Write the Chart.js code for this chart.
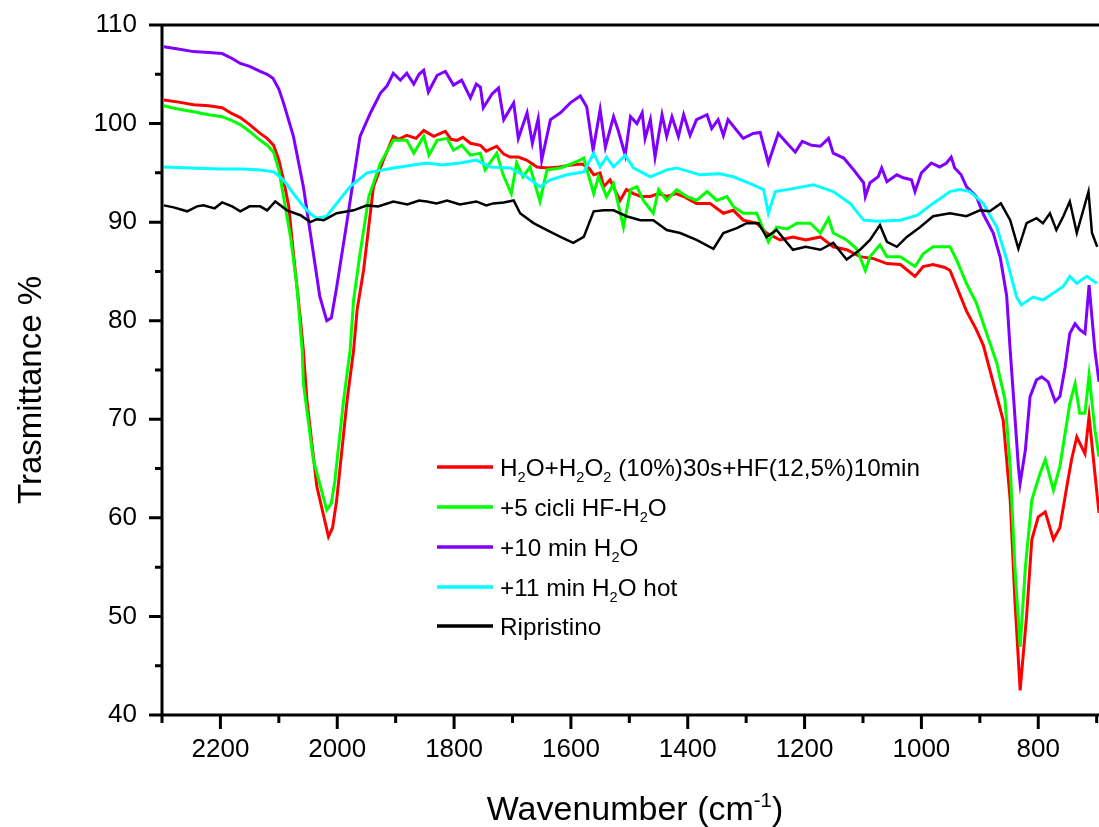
<!DOCTYPE html>
<html>
<head>
<meta charset="utf-8">
<title>Trasmittance FTIR</title>
<script src="https://cdn.jsdelivr.net/npm/chart.js@4.4.1/dist/chart.umd.min.js"></script>
<style>
  html, body { margin: 0; padding: 0; background: #fff; }
  canvas { display: block; }
</style>
</head>
<body>
<canvas id="ftirChart" width="1099" height="827"></canvas>
<script>
// spectra: [wavenumber cm-1, trasmittance %]
const hfEtch = [
  [2297,102.4],[2274,102.2],[2246,101.9],[2220,101.8],[2197,101.6],[2180,101.0],[2166,100.6],[2150,99.9],
  [2132,99.0],[2120,98.5],[2109,97.8],[2100,96.3],[2092,94.3],[2083,91.6],[2075,86.8],[2063,80.1],
  [2058,77.0],[2052,72.0],[2035,63.2],[2015,58.1],[2008,59.0],[2001,61.8],[1983,72.0],[1972,77.0],
  [1966,81.1],[1955,85.1],[1938,93.6],[1921,96.3],[1904,98.7],[1895,98.4],[1881,98.8],[1865,98.5],
  [1852,99.3],[1835,98.7],[1815,99.2],[1805,98.4],[1795,98.3],[1785,98.6],[1772,98.0],[1755,97.8],
  [1745,97.2],[1727,97.7],[1715,96.9],[1704,96.6],[1690,96.6],[1676,96.3],[1658,95.6],[1640,95.5],
  [1620,95.6],[1600,95.8],[1580,95.9],[1568,95.4],[1561,94.8],[1550,95.0],[1544,93.6],[1533,94.3],
  [1516,92.2],[1505,93.3],[1493,92.9],[1480,92.6],[1464,92.6],[1450,92.9],[1436,92.6],[1420,92.9],
  [1407,92.6],[1395,92.2],[1385,91.9],[1362,91.9],[1339,90.9],[1322,91.2],[1305,90.2],[1282,89.9],
  [1265,88.9],[1242,88.2],[1220,88.5],[1198,88.2],[1173,88.5],[1151,87.5],[1128,87.2],[1105,86.5],
  [1082,86.3],[1059,85.8],[1036,85.7],[1011,84.5],[997,85.5],[980,85.7],[960,85.4],[951,85.1],
  [940,83.5],[923,81.0],[906,79.1],[894,77.5],[877,73.7],[860,69.9],[848,61.8],[840,51.7],
  [831,42.5],[820,50.0],[811,57.8],[800,60.1],[788,60.6],[774,57.8],[763,59.0],[751,63.2],
  [743,65.9],[734,68.2],[720,66.5],[713,70.3],[703,64.5],[696,60.5]
];
const cicliHF = [
  [2297,101.8],[2275,101.5],[2246,101.2],[2220,100.9],[2197,100.7],[2180,100.3],[2166,99.9],[2150,99.2],
  [2132,98.3],[2120,97.8],[2109,97.1],[2100,95.3],[2092,92.6],[2080,88.5],[2069,83.5],[2060,77.0],
  [2058,73.7],[2041,65.9],[2018,60.8],[2010,61.5],[2004,63.8],[1989,72.0],[1978,77.0],[1972,82.1],
  [1961,86.8],[1946,92.6],[1926,96.0],[1904,98.3],[1881,98.3],[1869,97.0],[1852,98.7],[1843,96.8],
  [1829,98.3],[1812,98.5],[1801,97.3],[1787,97.8],[1772,96.8],[1755,97.0],[1747,95.3],[1727,97.0],
  [1716,94.8],[1702,92.9],[1693,96.0],[1682,94.6],[1670,95.6],[1653,92.1],[1641,95.3],[1618,95.5],
  [1600,95.9],[1584,96.3],[1578,96.5],[1561,92.9],[1553,94.6],[1539,92.6],[1527,93.9],[1510,89.5],
  [1498,93.3],[1487,93.6],[1476,92.2],[1459,90.9],[1450,93.3],[1436,92.2],[1419,93.3],[1402,92.6],
  [1385,92.2],[1367,93.1],[1350,92.2],[1333,92.6],[1322,91.6],[1305,90.9],[1282,90.9],[1262,88.0],
  [1248,89.5],[1230,89.3],[1213,89.9],[1190,89.9],[1173,88.9],[1159,90.4],[1151,88.9],[1128,88.2],
  [1111,87.3],[1096,85.1],[1088,86.5],[1071,87.7],[1059,86.5],[1036,86.5],[1011,85.5],[997,86.8],
  [980,87.5],[951,87.5],[940,86.2],[923,83.8],[906,81.8],[894,79.7],[871,75.7],[857,72.0],
  [848,65.2],[840,55.0],[831,46.9],[822,55.0],[811,61.8],[797,64.5],[788,65.9],[774,62.8],
  [763,65.2],[746,71.6],[737,73.6],[729,70.6],[720,70.6],[713,74.5],[703,68.9],[696,66.2]
];
const water10 = [
  [2297,107.8],[2275,107.6],[2246,107.3],[2220,107.2],[2197,107.1],[2180,106.6],[2166,106.1],[2150,105.8],
  [2132,105.3],[2120,105.0],[2110,104.6],[2100,103.5],[2092,102.1],[2075,98.7],[2058,93.6],[2041,86.9],
  [2030,82.5],[2018,80.0],[2010,80.3],[2001,83.4],[1983,90.2],[1961,98.7],[1943,101.1],[1926,103.1],
  [1915,103.8],[1904,105.1],[1892,104.4],[1881,105.1],[1869,104.0],[1860,105.0],[1852,105.4],[1844,103.2],
  [1829,104.9],[1815,105.3],[1801,103.9],[1787,104.4],[1772,102.6],[1762,104.0],[1755,103.7],[1750,101.6],
  [1735,103.0],[1724,103.6],[1715,100.4],[1698,102.1],[1690,98.5],[1675,101.1],[1666,98.0],[1656,100.5],
  [1650,96.3],[1635,100.4],[1618,101.1],[1601,102.1],[1584,102.8],[1573,101.7],[1562,97.3],[1550,101.4],
  [1541,97.6],[1527,100.7],[1519,99.3],[1507,96.8],[1498,100.7],[1487,100.0],[1478,101.1],[1473,98.5],
  [1464,100.4],[1456,96.6],[1444,100.9],[1436,98.7],[1427,100.7],[1416,98.7],[1407,100.9],[1396,98.8],
  [1385,100.4],[1367,100.9],[1359,99.5],[1348,100.4],[1339,98.8],[1331,100.4],[1316,99.3],[1305,98.5],
  [1288,99.0],[1276,99.1],[1262,96.0],[1245,99.0],[1230,98.0],[1216,97.1],[1204,98.2],[1188,97.8],
  [1173,97.7],[1159,98.5],[1151,97.0],[1133,96.5],[1116,95.3],[1099,94.0],[1096,92.6],[1088,94.0],
  [1074,94.6],[1068,95.5],[1059,94.1],[1042,94.8],[1031,94.5],[1017,94.3],[1011,93.1],[1000,95.0],
  [983,96.0],[969,95.6],[957,96.0],[949,96.6],[943,95.5],[932,94.8],[923,93.6],[906,92.6],
  [894,90.8],[877,88.9],[865,86.4],[854,82.5],[848,77.0],[842,72.0],[834,65.2],[831,63.5],
  [822,66.9],[814,72.3],[803,74.0],[794,74.3],[783,73.8],[771,71.8],[763,72.3],[754,75.3],
  [746,78.7],[737,79.7],[729,79.1],[720,78.7],[713,83.6],[703,77.0],[696,73.8]
];
const water11hot = [
  [2297,95.6],[2250,95.5],[2200,95.4],[2160,95.4],[2132,95.3],[2109,95.1],[2092,94.3],[2075,92.9],
  [2058,91.6],[2045,90.8],[2035,90.4],[2018,90.6],[2001,91.9],[1978,93.6],[1949,95.0],[1904,95.5],
  [1870,95.8],[1847,96.0],[1820,95.8],[1790,96.0],[1762,96.3],[1738,95.6],[1704,95.5],[1676,94.6],
  [1653,93.6],[1635,94.3],[1607,94.8],[1578,95.1],[1561,97.0],[1550,95.6],[1539,96.6],[1527,95.6],
  [1507,96.8],[1493,95.5],[1464,94.6],[1436,95.3],[1419,95.5],[1379,94.8],[1345,94.9],[1322,94.6],
  [1293,93.9],[1270,93.3],[1262,90.9],[1250,93.1],[1220,93.4],[1185,93.8],[1151,93.1],[1122,91.9],
  [1099,90.2],[1077,90.1],[1036,90.2],[1007,90.7],[980,91.9],[951,93.1],[934,93.3],[917,93.1],
  [894,91.9],[871,89.5],[854,86.2],[837,82.4],[829,81.6],[809,82.4],[792,82.1],[774,82.8],
  [757,83.5],[746,84.5],[734,83.8],[717,84.5],[700,83.8]
];
const ripristino = [
  [2297,91.7],[2280,91.5],[2257,91.1],[2240,91.6],[2229,91.7],[2210,91.4],[2197,92.0],[2180,91.6],
  [2166,91.1],[2150,91.6],[2132,91.6],[2120,91.2],[2106,92.1],[2086,91.2],[2063,90.7],[2046,90.0],
  [2035,90.3],[2023,90.2],[2001,90.9],[1972,91.2],[1949,91.7],[1930,91.6],[1904,92.1],[1880,91.8],
  [1860,92.2],[1847,92.1],[1830,91.9],[1812,92.2],[1790,91.8],[1762,92.1],[1745,91.7],[1733,91.9],
  [1715,92.0],[1698,92.2],[1687,90.9],[1664,89.9],[1641,89.2],[1618,88.5],[1596,87.9],[1578,88.5],
  [1561,91.1],[1544,91.2],[1527,91.2],[1505,90.6],[1481,90.2],[1459,90.2],[1436,89.2],[1413,88.9],
  [1385,88.2],[1356,87.3],[1339,88.9],[1316,89.4],[1299,89.9],[1279,89.9],[1265,88.5],[1248,89.2],
  [1220,87.2],[1198,87.5],[1173,87.2],[1151,87.9],[1128,86.2],[1105,87.2],[1088,88.2],[1071,89.7],
  [1059,88.0],[1042,87.5],[1025,88.5],[1002,89.5],[980,90.6],[951,90.9],[923,90.6],[900,91.2],
  [883,91.1],[864,91.9],[848,90.2],[834,87.3],[820,89.9],[803,90.4],[792,89.9],[780,90.9],
  [769,89.2],[757,90.6],[746,92.1],[734,88.9],[714,93.1],[708,88.9],[699,87.5]
];

// axis ticks
const xMajor = [2200, 2000, 1800, 1600, 1400, 1200, 1000, 800];
const xMinor = [2300, 2100, 1900, 1700, 1500, 1300, 1100, 900, 700];
const yMajor = [40, 50, 60, 70, 80, 90, 100, 110];
const yMinor = [45, 55, 65, 75, 85, 95, 105];

// legend text split into [text, shift] parts (1 = subscript, -1 = superscript)
const legendLabels = [
  [['H',0],['2',1],['O+H',0],['2',1],['O',0],['2',1],[' (10%)30s+HF(12,5%)10min',0]],
  [['+5 cicli HF-H',0],['2',1],['O',0]],
  [['+10 min H',0],['2',1],['O',0]],
  [['+11 min H',0],['2',1],['O hot',0]],
  [['Ripristino',0]]
];
const seriesColors = ['#ff0000', '#00ff00', '#7f00ff', '#00ffff', '#000000'];
const seriesData = [hfEtch, cicliHF, water10, water11hot, ripristino];

const FONT = '"Liberation Sans", Arial, sans-serif';

function drawRich(ctx, parts, x, y, size) {
  parts.forEach(([txt, shift]) => {
    const s = shift ? size * 0.6 : size;
    ctx.font = s + 'px ' + FONT;
    const dy = shift === 1 ? size * 0.28 : shift === -1 ? -size * 0.38 : 0;
    ctx.fillText(txt, x, y + dy);
    x += ctx.measureText(txt).width;
  });
  return x;
}

function richWidth(ctx, parts, size) {
  let w = 0;
  parts.forEach(([txt, shift]) => {
    ctx.font = (shift ? size * 0.6 : size) + 'px ' + FONT;
    w += ctx.measureText(txt).width;
  });
  return w;
}

// frame, tick marks, axis titles and the in-plot legend
const decorPlugin = {
  id: 'decor',
  afterDraw(chart) {
    const { ctx, chartArea: a, scales: { x, y } } = chart;
    ctx.save();
    ctx.strokeStyle = '#000';
    ctx.fillStyle = '#000';
    ctx.lineWidth = 3;

    ctx.beginPath();
    ctx.moveTo(a.left, a.top);
    ctx.lineTo(a.right, a.top);
    ctx.moveTo(a.left, a.top - 1.5);
    ctx.lineTo(a.left, a.bottom + 1.5);
    ctx.moveTo(a.left - 1.5, a.bottom);
    ctx.lineTo(a.right, a.bottom);
    xMajor.forEach(v => { const p = x.getPixelForValue(v); ctx.moveTo(p, a.bottom); ctx.lineTo(p, a.bottom + 14); });
    xMinor.forEach(v => { const p = x.getPixelForValue(v); ctx.moveTo(p, a.bottom); ctx.lineTo(p, a.bottom + 8); });
    yMajor.forEach(v => { const p = y.getPixelForValue(v); ctx.moveTo(a.left, p); ctx.lineTo(a.left - 13, p); });
    yMinor.forEach(v => { const p = y.getPixelForValue(v); ctx.moveTo(a.left, p); ctx.lineTo(a.left - 7, p); });
    ctx.stroke();

    // x title
    ctx.textBaseline = 'alphabetic';
    ctx.textAlign = 'left';
    const xTitle = [['Wavenumber (cm',0],['-1',-1],[')',0]];
    const tw = richWidth(ctx, xTitle, 34);
    drawRich(ctx, xTitle, 635 - tw / 2, 820, 34);

    // y title
    ctx.save();
    ctx.translate(41, 390);
    ctx.rotate(-Math.PI / 2);
    ctx.font = '33px ' + FONT;
    ctx.textAlign = 'center';
    ctx.fillText('Trasmittance %', 0, 0);
    ctx.restore();

    // legend
    const rows = [467, 507, 547, 587, 626];
    legendLabels.forEach((parts, i) => {
      ctx.strokeStyle = seriesColors[i];
      ctx.lineWidth = 3.5;
      ctx.beginPath();
      ctx.moveTo(437, rows[i]);
      ctx.lineTo(493, rows[i]);
      ctx.stroke();
      ctx.fillStyle = '#000';
      drawRich(ctx, parts, 500, rows[i] + 8.5, 24.3);
    });
    ctx.restore();
  }
};

new Chart(document.getElementById('ftirChart'), {
  type: 'line',
  data: {
    datasets: seriesData.map((pts, i) => ({
      data: pts.map(([w, t]) => ({ x: w, y: t })),
      borderColor: seriesColors[i],
      borderWidth: i === 4 ? 2.5 : 3,
      pointRadius: 0,
      tension: 0,
      fill: false,
      order: 5 - i
    }))
  },
  options: {
    responsive: false,
    animation: false,
    devicePixelRatio: 1,
    layout: { padding: { top: 25, right: 0, left: 0, bottom: 0 } },
    plugins: { legend: { display: false }, tooltip: { enabled: false } },
    scales: {
      x: {
        type: 'linear',
        reverse: true,
        min: 696,
        max: 2300,
        afterFit: s => {
          s.height = 112;
          s.paddingLeft = 0;
          s.paddingRight = 0;
        },
        afterBuildTicks: s => { s.ticks = xMajor.map(v => ({ value: v })); },
        grid: { display: false, drawTicks: false },
        border: { display: false },
        ticks: {
          padding: 19,
          color: '#000',
          font: { family: FONT, size: 26 },
          maxRotation: 0,
          autoSkip: false,
          callback: v => String(v)
        }
      },
      y: {
        min: 40,
        max: 110,
        afterFit: s => {
          s.width = 162;
          s.paddingTop = 0;
          s.paddingBottom = 0;
        },
        afterBuildTicks: s => { s.ticks = yMajor.map(v => ({ value: v })); },
        grid: { display: false, drawTicks: false },
        border: { display: false },
        ticks: {
          padding: 25,
          color: '#000',
          font: { family: FONT, size: 26 },
          callback: v => String(v)
        }
      }
    }
  },
  plugins: [decorPlugin]
});
</script>
</body>
</html>
